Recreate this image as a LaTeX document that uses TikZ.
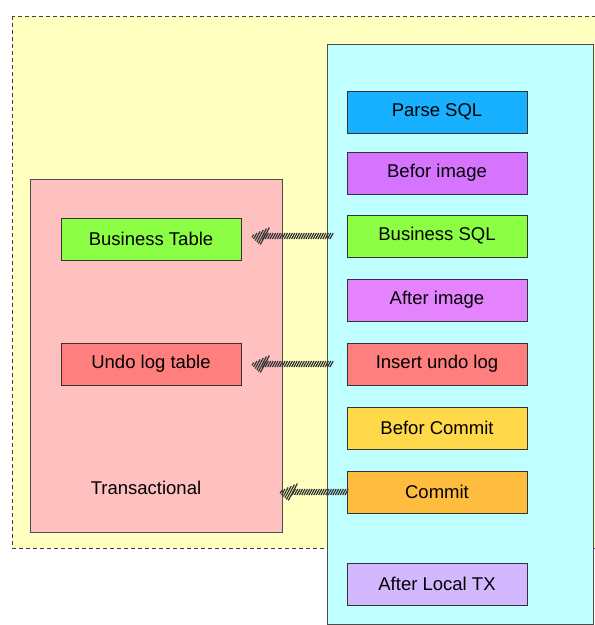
\documentclass[tikz,border=0pt]{standalone}
\usepackage{fontspec}
\setmainfont{Liberation Sans}
\usetikzlibrary{decorations.markings}

\definecolor{zoneyellow}{HTML}{FFFFC0}
\definecolor{zonecyan}{HTML}{C0FFFF}
\definecolor{zonepink}{HTML}{FFC0C0}
\definecolor{stepblue}{HTML}{17B1FF}
\definecolor{stepviolet}{HTML}{D674FF}
\definecolor{steplime}{HTML}{8CFF44}
\definecolor{steporchid}{HTML}{E583FF}
\definecolor{stepred}{HTML}{FF7F7F}
\definecolor{stepgold}{HTML}{FFD94A}
\definecolor{steporange}{HTML}{FFBD40}
\definecolor{steplilac}{HTML}{D4B8FF}

\begin{document}
\begin{tikzpicture}[x=1pt, y=-1pt,
    stepbox/.style={draw=black!80, line width=0.9pt, minimum width=180pt, minimum height=42pt,
        inner sep=0pt, font=\fontsize{18.5}{22}\selectfont},
    zone/.style={draw=black!70, line width=0.9pt, inner sep=0pt},
    hatcharrow/.style={decoration={markings,
        mark=between positions 0 and -13pt step 2.4pt with
            {\draw[line width=1.2pt, black!80] (-1.6pt,-3pt) -- (1.6pt,3pt);},
        mark=at position 1 with
            {\foreach \i in {1,...,6} {
                \pgfmathsetmacro\hh{min(1.5*\i,8.5)}
                \draw[line width=1.2pt, black!80]
                    ({(-2.4*\i-0.53*\hh)*1pt},{-\hh*1pt}) -- ({(-2.4*\i+0.53*\hh)*1pt},{\hh*1pt});
            }}},
        postaction=decorate}]
    \clip (0,0) rectangle (595,625);
    \path[fill=zoneyellow, draw=black!75, line width=0.9pt, dash pattern=on 4pt off 3pt]
        (12,16) rectangle (640,548);

    \node[zone, fill=zonepink, minimum width=252pt, minimum height=353pt] (trans) at (156,355.5) {};
    \node[font=\fontsize{18.5}{22}\selectfont] (translabel) at (146,488) {Transactional};
    \node[zone, fill=zonecyan, minimum width=266pt, minimum height=580pt] (local) at (460,334) {};

    \node[stepbox, fill=stepblue]   (parse)   at (437,112) {Parse SQL};
    \node[stepbox, fill=stepviolet] (before)  at (437,173) {Befor image};
    \node[stepbox, fill=steplime]   (bsql)    at (437,236) {Business SQL};
    \node[stepbox, fill=steporchid] (after)   at (437,300) {After image};
    \node[stepbox, fill=stepred]    (undo)    at (437,364) {Insert undo log};
    \node[stepbox, fill=stepgold]   (bcommit) at (437,428) {Befor Commit};
    \node[stepbox, fill=steporange] (commit)  at (437,492) {Commit};
    \node[stepbox, fill=steplilac]  (afterlx) at (437,584) {After Local TX};

    \node[stepbox, fill=steplime] (btable) at (151,239) {Business Table};
    \node[stepbox, fill=stepred]  (utable) at (151,364) {Undo log table};

    \coordinate (transin) at (trans.east |- commit.west);
    \path[hatcharrow] ([xshift=-15pt]bsql.west) -- ([xshift=9pt]btable.east |- bsql.west);
    \path[hatcharrow] ([xshift=-15pt]undo.west) -- ([xshift=9pt]utable.east);
    \path[hatcharrow] (commit.west) -- ([xshift=-4pt]transin);
\end{tikzpicture}
\end{document}
